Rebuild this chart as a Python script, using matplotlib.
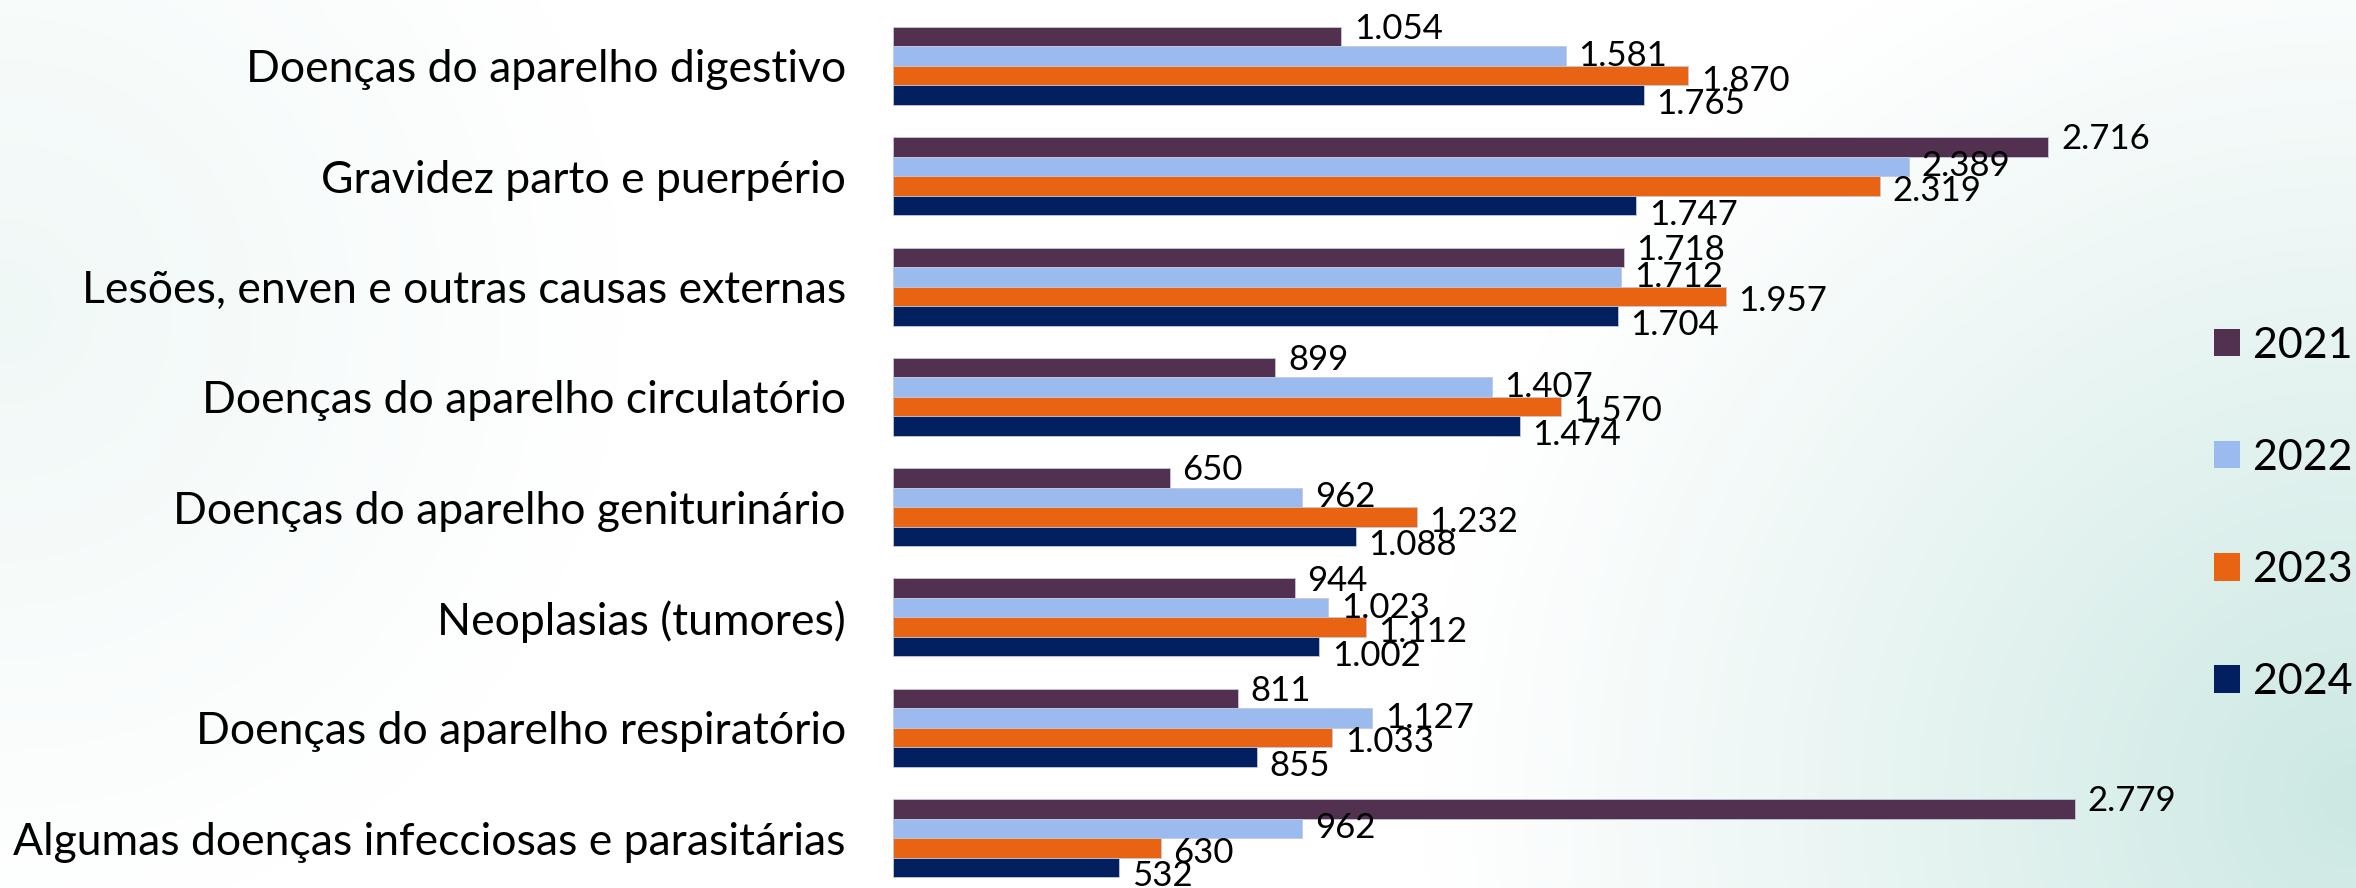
import numpy as np
import matplotlib
matplotlib.use("Agg")
import matplotlib.pyplot as plt
from matplotlib.patches import Patch

plt.rcParams["font.family"] = ["Lato", "DejaVu Sans"]

# Data (top to bottom as shown)
categories = [
    "Doenças do aparelho digestivo",
    "Gravidez parto e puerpério",
    "Lesões, enven e outras causas externas",
    "Doenças do aparelho circulatório",
    "Doenças do aparelho geniturinário",
    "Neoplasias (tumores)",
    "Doenças do aparelho respiratório",
    "Algumas doenças infecciosas e parasitárias",
]
years = ["2021", "2022", "2023", "2024"]
values_2021 = [1054, 2716, 1718, 899, 650, 944, 811, 2779]
values_2022 = [1581, 2389, 1712, 1407, 962, 1023, 1127, 962]
values_2023 = [1870, 2319, 1957, 1570, 1232, 1112, 1033, 630]
values_2024 = [1765, 1747, 1704, 1474, 1088, 1002, 855, 532]
series = [values_2021, values_2022, values_2023, values_2024]

colors = ["#52304f", "#9bbbef", "#e86413", "#022060"]
label_dy = [5.5, 0, -3.5, -6.5]  # points, label spread like the original


def fmt(v):
    return f"{v:,}".replace(",", ".")


fig = plt.figure(figsize=(23.56, 8.88), dpi=100)

# soft background gradient
bg = fig.add_axes([0, 0, 1, 1], zorder=-1)
h, w = 222, 589
xx, yy = np.meshgrid(np.linspace(0, 1, w), np.linspace(0, 1, h))
ratio = 23.56 / 8.88
d = np.sqrt(((1 - xx) * ratio) ** 2 + (0.9 - yy) ** 2)
t = np.clip(1 - d / 1.05, 0, 1) ** 1.1
d2 = np.sqrt((xx * ratio) ** 2 + (yy - 0.35) ** 2)
t = np.maximum(t, np.clip(1 - d2 / 0.7, 0, 1) * 0.3)
teal = np.array([0.80, 0.91, 0.89])
img = (1 - t[..., None]) * 1.0 + t[..., None] * teal
bg.imshow(img, aspect="auto", extent=[0, 1, 1, 0])
bg.axis("off")

ax = fig.add_axes([893 / 2356, 0, (2191 - 893) / 2356, 1])
ax.set_facecolor("none")

y = np.arange(len(categories))
bar_h = 0.177
for j, (vals, c) in enumerate(zip(series, colors)):
    pos = y + (j - 1.5) * bar_h
    ax.barh(pos, vals, height=bar_h, color=c, edgecolor="#c3c8dc", linewidth=0.6)
    for p, v in zip(pos, vals):
        ax.annotate(fmt(v), (v, p), xytext=(9, label_dy[j]), textcoords="offset points",
                    ha="left", va="center", fontsize=25)

ax.set_xlim(0, (2191 - 893) / 0.4254)
ax.set_ylim(7.453, -0.598)
ax.set_yticks(y)
ax.set_yticklabels(categories, fontsize=32)
ax.tick_params(axis="y", length=0, pad=34)
ax.set_xticks([])
for s in ax.spines.values():
    s.set_visible(False)

handles = [Patch(facecolor=c, label=yr) for c, yr in zip(colors, years)]
fig.legend(handles=handles, loc="center left", bbox_to_anchor=(2214 / 2356, 1 - 514 / 888),
           frameon=False, fontsize=31, handlelength=0.6, handleheight=0.6,
           handletextpad=0.3, labelspacing=1.72, borderpad=0, borderaxespad=0)

fig.savefig("out.png", dpi=100)
